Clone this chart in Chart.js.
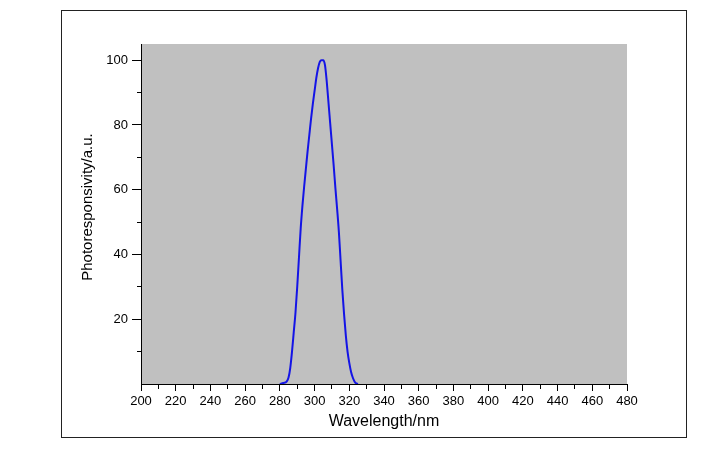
<!DOCTYPE html>
<html>
<head>
<meta charset="utf-8">
<script src="https://cdn.jsdelivr.net/npm/chart.js@4/dist/chart.umd.min.js"></script>
<style>
  html, body { margin: 0; padding: 0; background: #fff; }
  #wrap { width: 726px; height: 450px; position: relative; }
</style>
</head>
<body>
<div id="wrap"><canvas id="spec" width="726" height="450"></canvas></div>
<script>
// 光谱响应曲线
const wavelength = [280, 282, 284, 285, 286, 287, 288, 289, 290, 291, 292, 293, 294, 295, 296, 297, 298, 299, 300,
  301, 302, 303, 304, 305, 306, 307, 308, 309, 310, 311, 312, 313, 314, 315, 316, 317, 318, 319, 320,
  321, 322, 323, 324, 325];
const response = [0, 0.3, 0.8, 2, 5, 10, 16, 22, 30, 39, 48, 55, 61, 66.5, 72, 77, 82, 86.5, 90.5,
  94.5, 97.5, 99.5, 100, 100, 98.5, 93.5, 87, 80.5, 74, 67.5, 60.5, 54, 47, 38, 29, 21.5, 15, 10, 6.5,
  3.8, 2, 0.8, 0.2, 0];
const xRange = [200, 480];
const yRange = [0, 105];
const xLabelStep = 20, yLabelStep = 20, minorStep = 10;
const xTitle = "Wavelength/nm";
const yTitle = "Photoresponsivity/a.u.";

const points = wavelength.map((w, i) => ({ x: w, y: response[i] }));
const FONT = "Arial, 'Liberation Sans', sans-serif";

// 绘图区灰底 + 外框 + 纵轴标题
const frame = {
  id: "frame",
  beforeDraw(chart) {
    const { ctx, chartArea: a } = chart;
    ctx.save();
    ctx.fillStyle = "#c0c0c0";
    ctx.fillRect(a.left, a.top, a.right - a.left, a.bottom - a.top);
    ctx.strokeStyle = "#222";
    ctx.lineWidth = 1;
    ctx.strokeRect(61.5, 10.5, 625, 427);
    ctx.restore();
  },
  afterDraw(chart) {
    const { ctx, chartArea: a } = chart;
    ctx.save();
    ctx.translate(88, (a.top + a.bottom) / 2 - 7);
    ctx.rotate(-Math.PI / 2);
    ctx.font = `15px ${FONT}`;
    ctx.fillStyle = "#000";
    ctx.textAlign = "center";
    ctx.textBaseline = "middle";
    ctx.fillText(yTitle, 0, 0);
    ctx.restore();
  }
};

const isMajor = (v, step) => Math.abs(v % step) < 1e-6;

new Chart(document.getElementById("spec"), {
  type: "line",
  data: {
    datasets: [{
      data: points,
      borderColor: "#1414e6",
      borderWidth: 2,
      pointRadius: 0,
      cubicInterpolationMode: "monotone",
      fill: false
    }]
  },
  options: {
    responsive: false,
    animation: false,
    events: [],
    layout: { padding: { left: 0, top: 44, right: 99, bottom: 0 } },
    plugins: { legend: { display: false }, tooltip: { enabled: false } },
    scales: {
      x: {
        type: "linear", min: xRange[0], max: xRange[1],
        afterFit(s) { s.height = 66; },
        border: { display: true, color: "#000", width: 1 },
        grid: {
          drawOnChartArea: false, tickLength: 7, tickColor: "#000",
          tickBorderDash: c => isMajor(c.tick.value, xLabelStep) ? [] : [4, 100]
        },
        ticks: {
          stepSize: minorStep, autoSkip: false, maxRotation: 0, padding: 3, color: "#000",
          font: { family: FONT, size: 13 },
          callback: v => isMajor(v, xLabelStep) ? String(v) : ""
        },
        title: {
          display: true, text: xTitle, color: "#000",
          font: { family: FONT, size: 16 },
          padding: { top: 0, bottom: 19 }
        }
      },
      y: {
        type: "linear", min: yRange[0], max: yRange[1],
        afterFit(s) { s.width = 141; },
        border: { display: true, color: "#000", width: 1 },
        grid: {
          drawOnChartArea: false, tickLength: 9,
          tickColor: c => c.tick.value === 0 ? "rgba(0,0,0,0)" : "#000",
          tickBorderDash: c => isMajor(c.tick.value, yLabelStep) ? [] : [0, 5, 4, 100]
        },
        ticks: {
          stepSize: minorStep, includeBounds: false, autoSkip: false, padding: 4, color: "#000",
          font: { family: FONT, size: 13 },
          callback: v => (v > 0 && isMajor(v, yLabelStep)) ? String(v) : ""
        }
      }
    }
  },
  plugins: [frame]
});
</script>
</body>
</html>
